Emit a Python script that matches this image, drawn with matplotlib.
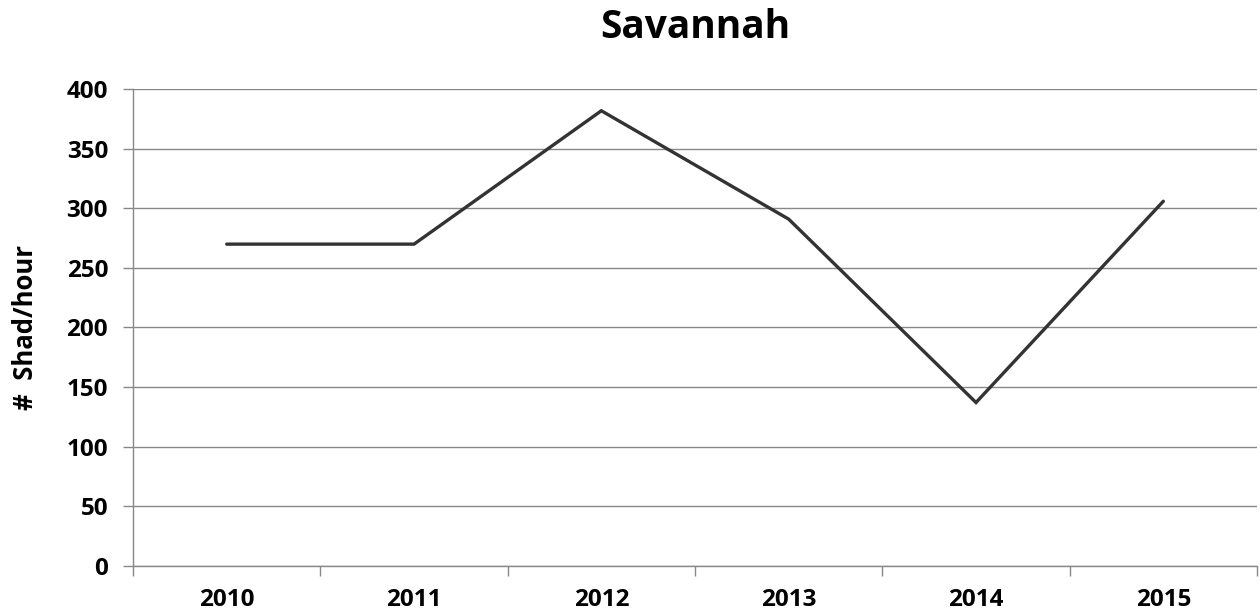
import matplotlib
matplotlib.use("Agg")
from matplotlib import pyplot as plt
import numpy as np

years = ["2010", "2011", "2012", "2013", "2014", "2015"]
shad_per_hour = [270, 270, 382, 291, 137, 306]
y_ticks = [0, 50, 100, 150, 200, 250, 300, 350, 400]

plt.rcParams['font.family'] = ['Open Sans', 'DejaVu Sans']
plt.rcParams['font.weight'] = 'bold'

fig = plt.figure(figsize=(12.6, 6.16), dpi=100)
ax = fig.add_axes([0.1056, 0.0817, 0.892, 0.7733])

x = np.arange(len(years))
ax.plot(x, shad_per_hour, color='#333333', linewidth=2.4, solid_capstyle='round',
        solid_joinstyle='miter', zorder=3)

ax.set_xlim(-0.5, len(years) - 0.5)
ax.set_ylim(0, 400)

# category labels in the middle, tick marks on the boundaries
ax.set_xticks(np.arange(-0.5, len(years), 1.0))
ax.set_xticklabels([])
ax.set_xticks(x, minor=True)
ax.set_xticklabels(years, minor=True, fontsize=17.5, fontweight='bold')
ax.tick_params(axis='x', which='major', length=7, color='#888888', width=1)
ax.tick_params(axis='x', which='minor', length=0, pad=16)

ax.set_yticks(y_ticks)
ax.set_yticklabels([str(v) for v in y_ticks], fontsize=17.5, fontweight='bold')
ax.tick_params(axis='y', length=7, color='#888888', width=1, pad=11)

ax.grid(axis='y', color='#888888', linewidth=1)
ax.set_axisbelow(True)

for side in ['top', 'right']:
    ax.spines[side].set_visible(False)
for side in ['left', 'bottom']:
    ax.spines[side].set_color('#888888')
    ax.spines[side].set_linewidth(1)

ax.set_ylabel("#  Shad/hour", fontsize=18.5, fontweight='bold', labelpad=20)
ax.set_title("Savannah", fontsize=28, fontweight='bold', pad=37)

fig.savefig("out.png", dpi=100)
